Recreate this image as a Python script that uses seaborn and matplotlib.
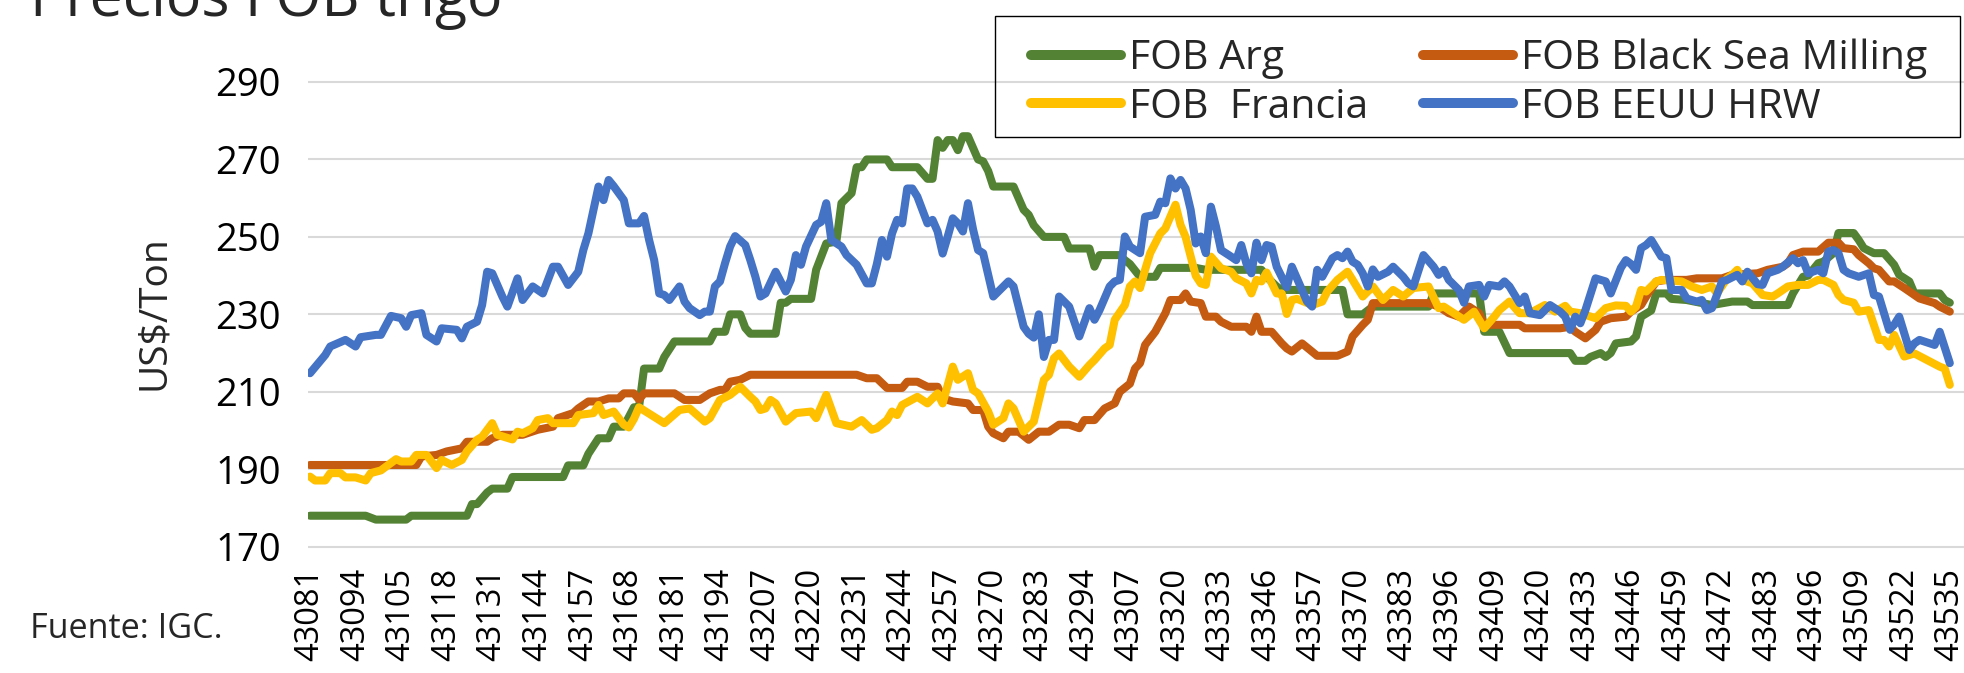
import numpy as np
import pandas as pd
import matplotlib
matplotlib.use("Agg")
import matplotlib.pyplot as plt
import seaborn as sns
from matplotlib.lines import Line2D
from matplotlib.patches import Rectangle

# ---------------- data (business-day index, US$/Ton) ----------------
xtick_labels = ["43081", "43094", "43105", "43118", "43131", "43144", "43157", "43168",
                "43181", "43194", "43207", "43220", "43231", "43244", "43257", "43270",
                "43283", "43294", "43307", "43320", "43333", "43346", "43357", "43370",
                "43383", "43396", "43409", "43420", "43433", "43446", "43459", "43472",
                "43483", "43496", "43509", "43522", "43535"]

series_names = ["FOB Arg", "FOB Black Sea Milling", "FOB  Francia", "FOB EEUU HRW"]

fob_arg = [(0,178),(11,178),(13,177),(19,177),(20,178),(31,178),(32,181),(33,181),(35,184),(36,185),
           (39,185),(40,188),(50,188),(51,191),(54,191),(55,194),(57,198),(59,198),(60,201),(62,201),
           (64,206),(65,206),(66,216),(69,216),(70,219),(72,223),(79,223),(80,225.5),(82,225.5),(83,230),
           (85,230),(86,226.5),(87,225),(92,225),(93,233),(94,233),(95,234),(99,234),(100,241.5),(102,248.3),
           (104,248.8),(105,258.7),(107,261.3),(108,268),(109,268),(110,270),(114,270),(115,268),(120,268),
           (122,265),(123,265),(124,275),(125,273),(126,275),(127,275),(128,272.4),(129,276),(130,276),
           (132,270),(133,269.5),(134,267),(135,263),(139,263),(141,257),(142,255.7),(143,253),(145,250),
           (149,250),(150,247),(154,247),(155,242.3),(156,245.3),(160,245.3),(161,244),(162,243),(164,239.7),
           (167,239.7),(168,242),(175,242),(177,241.5),(188,241.5),(189,239.7),(191,237.2),(192,236.3),
           (204,236.3),(205,230),(208,230),(210,232),(221,232),(222,235.4),(231,235.4),(232,225.5),(235,225.5),
           (237,220),(249,220),(250,218),(252,218),(253,219),(255,220),(256,219),(257,220),(258,222.5),
           (261,223),(262,224.3),(263,229.4),(265,231),(266,235.4),(268,235.4),(269,234),(272,233.7),
           (277,232.4),(281,233.3),(284,233.3),(285,232.4),(292,232.4),(293,235.4),(295,239.7),(296,240),
           (298,243.2),(299,243.6),(301,245.8),(302,251),(305,251),(306,249.2),(307,247.1),(309,245.8),
           (311,245.8),(313,242.8),(314,240.2),(316,238.5),(317,235.4),(322,235.4),(323,233.7),(324,233)]

fob_black_sea = [(0,191.1),(21,191.1),(22,193.3),(25,193.7),(27,194.6),(30,195.4),(31,197.1),(35,197.1),
           (36,198),(38,198.9),(42,198.9),(45,200.2),(48,201),(49,203.2),(52,204.5),(53,205.7),(55,207.5),
           (57,207.5),(59,208.3),(61,208.3),(62,209.6),(64,209.6),(65,208),(66,209.6),(72,209.6),(74,207.9),
           (77,207.9),(79,209.6),(81,210.5),(82,210.5),(83,212.6),(85,213.1),(87,214.4),(108,214.4),
           (110,213.5),(112,213.5),(114,211),(117,211),(118,212.6),(120,212.6),(122,211.3),(124,211.3),
           (125,208.3),(127,207.5),(130,207),(131,205.3),(133,205.3),(134,201),(135,199.3),(137,198),
           (138,199.7),(140,199.7),(142,197.6),(144,199.7),(146,199.7),(148,201.5),(150,201.5),(152,200.6),
           (153,202.7),(155,202.7),(157,205.7),(159,207),(160,210),(162,212.1),(163,216),(164,217.4),
           (165,222.1),(167,225.5),(169,230.3),(170,233.7),(172,233.7),(173,235.4),(174,233.3),(176,232.9),
           (177,229.4),(179,229.4),(180,228.1),(182,226.8),(185,226.8),(186,225.5),(187,229.4),(188,225.5),
           (190,225.5),(192,222.5),(193,221.2),(194,220.4),(196,222.5),(199,219.3),(203,219.3),(205,220.4),
           (206,224.3),(208,227.3),(209,228.6),(210,232.9),(221,232.9),(223,232),(225,230.3),(227,229.4),
           (229,232),(231,230.3),(232,227.3),(239,227.3),(240,226.4),(247,226.4),(249,226.8),(250,225.5),
           (252,223.8),(254,226),(255,228.1),(257,229),(260,229.4),(261,230.7),(263,232.4),(264,234.6),
           (266,238.5),(268,238.9),(272,238.9),(274,239.3),(279,239.3),(281,240.2),(286,240.6),(288,241.5),
           (291,242.3),(292,243.2),(293,245.3),(295,246.2),(298,246.2),(300,248.5),(302,248.5),(303,247.1),
           (305,246.8),(306,245.3),(308,243.2),(309,241.9),(310,241.5),(312,238.5),(313,238.5),(315,236.8),
           (317,235),(318,234.1),(321,232.9),(322,232),(324,230.7)]

fob_francia = [(0,188.1),(1,187.1),(3,187.1),(4,189),(6,189),(7,187.9),(9,187.9),(11,187.1),(12,189),
           (14,189.7),(17,192.6),(18,192),(20,192),(21,193.7),(23,193.7),(25,190.3),(26,192.4),(28,191.1),
           (30,192.4),(31,194.6),(33,197.6),(34,198.4),(36,201.9),(37,198.9),(40,197.7),(41,199.7),(42,199.3),
           (44,200.6),(45,202.7),(47,203.2),(48,201.9),(52,201.9),(53,204),(56,204.5),(57,206.6),(58,204),
           (60,204.9),(62,201.5),(63,200.8),(64,203),(65,206),(70,201.9),(73,205.3),(75,205.7),(78,202.3),
           (79,203.2),(81,207.9),(83,209.2),(85,211.3),(87,208.7),(88,207.5),(89,205.3),(90,205.7),(91,207.9),
           (92,207),(94,202.3),(96,204.5),(99,204.9),(100,203.2),(102,209.2),(104,201.9),(107,201),(109,202.7),
           (111,200.2),(112,200.6),(114,202.7),(115,204.9),(116,204),(117,206.6),(120,208.7),(122,207),
           (124,209.6),(125,207),(127,216.5),(128,213.1),(130,214.8),(131,210.5),(132,209.6),(134,204.9),
           (135,201.5),(137,203.2),(138,207),(139,205.7),(141,199.7),(143,202.3),(145,213.1),(146,214.4),
           (147,218.7),(148,219.9),(150,216.5),(152,213.9),(154,216.9),(155,218.2),(157,221.2),(158,222.1),
           (159,228.6),(161,232.4),(162,237.2),(163,238.5),(164,236.8),(165,241.5),(166,245.8),(168,250.9),
           (169,252.2),(171,258.3),(172,253.1),(173,250),(174,245),(175,240),(176,238),(177,237.6),
           (178,244.9),(180,241.9),(182,241),(183,239.3),(185,238),(186,235.4),(187,238.9),(188,238.5),
           (189,240.8),(191,235.4),(192,235.4),(193,230.1),(194,233.7),(195,234),(196,233.5),(198,232.4),
           (200,233.3),(201,235.9),(203,238.9),(205,241),(206,238.9),(208,234.6),(210,237.2),(212,233.7),
           (214,236.3),(216,234.6),(218,236.8),(221,237.2),(223,231.6),(224,232),(226,230.3),(228,228.6),
           (230,230.7),(232,226.4),(234,229.4),(235,231.1),(237,233.3),(239,230.3),(241,230.3),(244,232.4),
           (246,230.7),(248,232.2),(249,230.7),(251,230.3),(254,229),(256,231.6),(258,232.3),(260,232.2),
           (261,230.7),(262,232),(263,236.3),(264,235.9),(266,238.5),(267,238.9),(271,238.5),(273,237.2),
           (275,236.3),(277,237.2),(278,235.4),(280,239.3),(281,240.2),(282,241.5),(283,238.9),(285,238),
           (287,235),(289,234.6),(290,235.4),(292,237.2),(294,237.6),(296,237.6),(298,238.9),(299,238.9),
           (301,237.6),(302,235),(303,233.7),(305,233),(306,230.7),(308,231.1),(310,223.4),(311,223.4),
           (312,221.7),(313,224.7),(315,219.1),(317,219.9),(322,216.5),(323,216),(324,211.8)]

fob_eeuu = [(0,214.8),(3,219.5),(4,221.7),(7,223.4),(9,221.7),(10,224.1),(13,224.7),(14,224.7),(16,229.6),
           (18,229),(19,226.8),(20,229.8),(22,230.3),(23,224.7),(25,223),(26,226.4),(29,226),(30,223.8),
           (31,226.8),(33,228.1),(34,232.4),(35,241),(36,240.6),(38,234.6),(39,232),(41,239.3),(42,233.7),
           (44,237.2),(46,235.4),(48,242.3),(49,242.3),(51,237.6),(53,241),(54,246.6),(55,250.9),(57,263),
           (58,259.5),(59,264.7),(60,263.1),(62,259.5),(63,253.5),(65,253.5),(66,255.4),(67,249.2),(68,244),
           (69,235.4),(70,235),(71,233.7),(73,237.2),(74,233.3),(75,231.6),(77,229.8),(78,230.7),(79,230.7),
           (80,237.2),(81,238.5),(82,243.2),(83,247.5),(84,250.2),(86,247.9),(87,244),(88,239.7),(89,234.6),
           (90,235.4),(92,241),(94,235.9),(95,238.9),(96,245.3),(97,242.8),(98,247.5),(100,253.1),(101,253.9),
           (102,258.7),(103,249.2),(105,247.5),(106,245.3),(108,242.8),(110,238),(111,238),(112,243),
           (113,249.2),(114,244.9),(115,250.9),(116,254.4),(117,253.5),(118,262.5),(119,262.5),(120,260.4),
           (122,253.5),(123,254.4),(124,251.4),(125,245.7),(126,250.1),(127,254.8),(128,253.5),(129,251.4),
           (130,258.7),(131,252),(132,246.6),(133,245.8),(135,234.6),(138,238.5),(139,237.2),(141,226.8),
           (142,225),(143,224),(144,230),(145,219),(146,223.4),(147,223.4),(148,234.6),(150,232),(152,224.3),
           (154,231.6),(155,228.6),(156,231.1),(158,237.2),(159,238.5),(160,238.9),(161,250.1),(162,247.5),
           (164,245.8),(165,255.2),(167,255.7),(168,259.1),(169,258.7),(170,265.1),(171,262.5),(172,264.7),
           (173,262.5),(174,257),(175,248.3),(176,250.1),(177,245.8),(178,257.8),(179,252.7),(180,246.6),
           (182,244.9),(183,244),(184,247.9),(185,243.2),(186,240.6),(187,248.5),(188,244),(189,247.9),
           (190,247.5),(191,242.3),(193,237),(194,242.3),(196,236.3),(197,233.3),(198,232),(199,241.5),
           (200,239.7),(202,244.5),(203,245.3),(204,244.5),(205,246.2),(206,243.6),(207,242.8),(208,240.6),
           (209,237.2),(210,241.6),(211,239.7),(213,241),(214,242.3),(216,239.7),(217,238),(218,237.2),
           (220,245.3),(222,242.3),(223,240.2),(224,241.5),(225,238.9),(227,236.3),(228,233),(229,237.2),
           (231,237.6),(232,234.6),(233,237.6),(235,237.2),(236,238.5),(237,237.2),(239,232.9),(240,234.6),
           (241,230.3),(243,229.8),(245,232.4),(247,230.7),(248,229.4),(249,226),(250,229.4),(251,227.7),
           (252,231.1),(254,239.3),(256,238.5),(257,235.4),(259,242),(260,244),(261,243),(262,241.5),
           (263,247.1),(264,247.9),(265,249.2),(267,244.9),(268,244.5),(269,236.3),(271,236.3),(272,234.1),
           (274,233.3),(275,233.7),(276,231.1),(277,231.6),(279,238.5),(280,238.9),(282,240.2),(283,238.5),
           (284,241),(286,237.8),(287,237.6),(288,240.6),(290,241.5),(291,242.3),(293,244.5),(294,243.2),
           (295,244),(296,240.6),(298,241.5),(299,240.6),(300,246.2),(301,246.6),(302,245.8),(303,241.5),
           (304,240.6),(306,239.7),(308,240.6),(309,235),(310,234.6),(312,226),(313,227.3),(314,229.4),
           (316,220.8),(317,222.5),(318,223.4),(321,222.1),(322,225.5),(324,217.4)]

series_colors = ["#548235", "#C55A11", "#FFC000", "#4472C4"]

# ---------------- figure ----------------
sns.set_style("white")
plt.rcParams["font.family"] = ["Open Sans", "DejaVu Sans"]

W, H = 1965, 673
fig = plt.figure(figsize=(W / 100, H / 100), dpi=100)
ax_top, ax_bot, ax_left = 74.25, 554.45, 308
ax = fig.add_axes([ax_left / W, 1 - ax_bot / H, (W - ax_left) / W, (ax_bot - ax_top) / H])

frames = []
for name, pts in zip(series_names, [fob_arg, fob_black_sea, fob_francia, fob_eeuu]):
    d = pd.DataFrame(pts, columns=["dia", "precio"])
    d["serie"] = name
    frames.append(d)
data = pd.concat(frames, ignore_index=True)

palette = dict(zip(series_names, series_colors))
sns.lineplot(data=data, x="dia", y="precio", hue="serie", hue_order=series_names,
             palette=palette, estimator=None, linewidth=5.8, legend=False, ax=ax)
for ln in ax.get_lines():
    ln.set_solid_capstyle("round")
    ln.set_solid_joinstyle("round")

ax.set_xlim(-0.4, 327)
ax.set_ylim(168, 292)
ax.set_yticks(np.arange(170, 291, 20))
ax.set_xticks(np.arange(0, 9 * len(xtick_labels), 9))
ax.set_xticklabels(xtick_labels, rotation=90)
ax.tick_params(axis="x", length=0, pad=9.7, labelsize=23.5, labelcolor="black")
ax.tick_params(axis="y", length=0, pad=19.4, labelsize=27.5, labelcolor="black")
ax.grid(axis="y", color="#D9D9D9", linewidth=1.5)
ax.grid(axis="x", visible=False)
for s in ax.spines.values():
    s.set_visible(False)
ax.set_xlabel("")
ax.set_ylabel("")

fig.text(154 / W, 1 - 313 / H, "US$/Ton", rotation=90, ha="center", va="center", fontsize=28)
fig.text(30 / W, 1 - 15.7 / H, "Precios FOB trigo", fontsize=42.6, ha="left", va="baseline")
fig.text(30 / W, 1 - 638.3 / H, "Fuente: IGC.", fontsize=24.6, ha="left", va="baseline")

# legend
proxies = {n: Line2D([], [], color=c, linewidth=7.2, solid_capstyle="round")
           for n, c in zip(series_names, series_colors)}
leg_kw = dict(loc="upper left", frameon=False, fontsize=29.5, handlelength=2.2,
              handletextpad=0.2, labelspacing=0.2, borderpad=0, borderaxespad=0)
leg1 = fig.legend([proxies[series_names[0]], proxies[series_names[2]]],
                  [series_names[0], series_names[2]],
                  bbox_to_anchor=(1031 / W, 1 - 38.5 / H), **leg_kw)
leg2 = fig.legend([proxies[series_names[1]], proxies[series_names[3]]],
                  [series_names[1], series_names[3]],
                  bbox_to_anchor=(1423 / W, 1 - 38.5 / H), **leg_kw)
fig.add_artist(Rectangle((995 / W, 1 - 137 / H), 965 / W, 121 / H, transform=fig.transFigure,
                         fill=False, edgecolor="black", linewidth=1.0))

fig.savefig("out.png", dpi=100)
